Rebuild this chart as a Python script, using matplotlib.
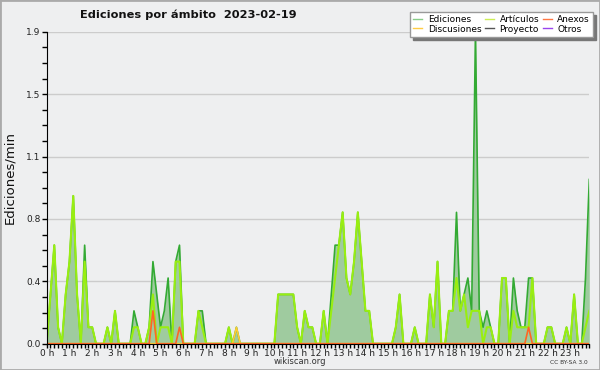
import numpy as np
import matplotlib
matplotlib.use("Agg")
import matplotlib.pyplot as plt
from matplotlib.patches import Rectangle
from matplotlib.lines import Line2D

# ---- data: edits per minute, 10-minute bins over 2023-02-19 ----
ediciones = [
    0, 0.3, 0.6, 0.1, 0, 0.3, 0.5, 0.9, 0.3, 0, 0.6, 0.1, 0.1, 0, 0, 0, 0.1, 0, 0.2, 0, 0, 0, 0, 0.2,
    0.1, 0, 0, 0.1, 0.5, 0.3, 0.1, 0.2, 0.4, 0, 0.5, 0.6, 0, 0, 0, 0, 0.2, 0.2, 0, 0, 0, 0, 0, 0,
    0.1, 0, 0.1, 0, 0, 0, 0, 0, 0, 0, 0, 0, 0, 0.3, 0.3, 0.3, 0.3, 0.3, 0.1, 0, 0.2, 0.1, 0.1, 0,
    0, 0.2, 0, 0.3, 0.6, 0.6, 0.8, 0.4, 0.3, 0.5, 0.8, 0.5, 0.2, 0.2, 0, 0, 0, 0, 0, 0, 0.1, 0.3,
    0, 0, 0, 0.1, 0, 0, 0, 0.3, 0.1, 0.5, 0, 0, 0.2, 0.2, 0.8, 0.2, 0.3, 0.4, 0.2, 1.9, 0.2, 0.1,
    0.2, 0.1, 0, 0, 0.4, 0.4, 0, 0.4, 0.2, 0.1, 0.1, 0.4, 0.4, 0, 0, 0, 0.1, 0.1, 0, 0, 0, 0.1,
    0, 0.3, 0, 0, 0.4, 1.0,
]
articulos = [
    0, 0.3, 0.6, 0.1, 0, 0.3, 0.5, 0.9, 0.3, 0, 0.5, 0.1, 0.1, 0, 0, 0, 0.1, 0, 0.2, 0, 0, 0, 0, 0.1,
    0.1, 0, 0, 0.1, 0.3, 0, 0.1, 0.1, 0.1, 0, 0.5, 0.5, 0, 0, 0, 0, 0.2, 0.1, 0, 0, 0, 0, 0, 0,
    0.1, 0, 0, 0, 0, 0, 0, 0, 0, 0, 0, 0, 0, 0.3, 0.3, 0.3, 0.3, 0.3, 0.1, 0, 0.2, 0.1, 0.1, 0,
    0, 0.2, 0, 0.2, 0.4, 0.6, 0.8, 0.4, 0.3, 0.5, 0.8, 0.5, 0.2, 0.2, 0, 0, 0, 0, 0, 0, 0.1, 0.3,
    0, 0, 0, 0.1, 0, 0, 0, 0.3, 0.1, 0.5, 0, 0, 0.2, 0.2, 0.4, 0.2, 0.3, 0.1, 0.2, 0.2, 0.2, 0,
    0.1, 0.1, 0, 0, 0.4, 0.4, 0, 0.2, 0.1, 0.1, 0.1, 0.1, 0.4, 0, 0, 0, 0.1, 0.1, 0, 0, 0, 0.1,
    0, 0.3, 0, 0, 0.1, 0.2,
]
anexos = [0.0] * 144
anexos[28] = 0.2
anexos[35] = 0.1
anexos[127] = 0.1
discusiones = [0.0] * 144
discusiones[50] = 0.1
proyecto = [0.0] * 144
otros = [0.0] * 144

hour_labels = [f"{h} h" for h in range(24)]
title = "Ediciones por ámbito  2023-02-19"
ylabel = "Ediciones/min"

# ---- figure ----
bg = "#eeeff0"
plt.rcParams["font.family"] = ["DejaVu Sans"]
fig = plt.figure(figsize=(6, 3.7), dpi=100, facecolor=bg)
ax = fig.add_axes([46.7 / 600, 1 - 343.7 / 370, (589.3 - 46.7) / 600, (343.7 - 31.7) / 370])
ax.set_facecolor(bg)

x = np.arange(len(ediciones)) / 6.0
ed = np.array(ediciones)

ax.fill_between(x, 0, ed, color="#9fcb9f", lw=0, zorder=2)
ax.plot(x, ed, color="#33aa33", lw=1.2, zorder=3)
ax.plot(x, articulos, color="#99ee11", lw=1.5, zorder=4)
ax.plot(x, discusiones, color="#ffcc33", lw=1.2, zorder=5)
ax.plot(x, proyecto, color="#555555", lw=1.0, zorder=1)
ax.plot(x, otros, color="#9944ee", lw=1.0, zorder=1)
ax.plot(x, anexos, color="#ff6622", lw=1.2, zorder=6)

ymax = 1.9
ax.set_ylim(0, ymax)
ax.set_xlim(0, x[-1])
yt = np.linspace(0, ymax, 6)
ax.set_yticks(yt)
ax.set_yticklabels([f"{v:.1f}" for v in yt])
ax.set_yticks(np.linspace(0, ymax, 21), minor=True)
ax.set_xticks(np.arange(24))
ax.set_xticklabels(hour_labels)
ax.set_xticks(np.arange(0, x[-1] + 0.01, 1 / 6), minor=True)
ax.grid(axis="y", color="#cccccc", lw=1, zorder=0)
ax.tick_params(axis="both", which="both", direction="out", length=3.5, width=1, color="black",
               labelsize=6.5, labelcolor="#222222", pad=1)
ax.tick_params(axis="x", which="both", length=3, pad=0.5)
for s in ["top", "right"]:
    ax.spines[s].set_visible(False)
for s in ["left", "bottom"]:
    ax.spines[s].set_color("black")
    ax.spines[s].set_zorder(10)

fig.text(188.5 / 600, 1 - 15 / 370, title, ha="center", va="center", fontsize=8.2,
         fontweight="bold", color="#111111")
fig.text(10 / 600, 1 - 177 / 370, ylabel, rotation=90, ha="center", va="center",
         fontsize=9.5, color="#111111")
fig.text(300 / 600, 1 - 361.5 / 370, "wikiscan.org", ha="center", va="center", fontsize=6,
         color="#333333")
fig.text(569 / 600, 1 - 362 / 370, "CC BY-SA 3.0", ha="center", va="center", fontsize=4.2,
         color="#333333")

handles = [
    Line2D([], [], color="#88cc88", lw=1),
    Line2D([], [], color="#ffcc44", lw=1),
    Line2D([], [], color="#ccee55", lw=1),
    Line2D([], [], color="#555555", lw=1),
    Line2D([], [], color="#ff7744", lw=1),
    Line2D([], [], color="#9944ee", lw=1),
]
labels = ["Ediciones", "Discusiones", "Artículos", "Proyecto", "Anexos", "Otros"]
leg = fig.legend(handles, labels, ncol=3, loc="upper right", bbox_to_anchor=(593 / 600, 1 - 12 / 370),
                 fontsize=6.5, frameon=True, fancybox=False, shadow={"color": "#777777", "alpha": 1},
                 borderpad=0.35, labelspacing=0.05, handlelength=1.0, handletextpad=0.6,
                 columnspacing=0.4, borderaxespad=0)
leg.get_frame().set_edgecolor("#999999")
leg.get_frame().set_facecolor("white")
leg.get_frame().set_linewidth(1)

fig.patches.append(Rectangle((0, 0), 1, 1, transform=fig.transFigure, fill=False,
                             edgecolor="#aaaaaa", lw=2))
fig.savefig("out.png", dpi=100, facecolor=bg)
